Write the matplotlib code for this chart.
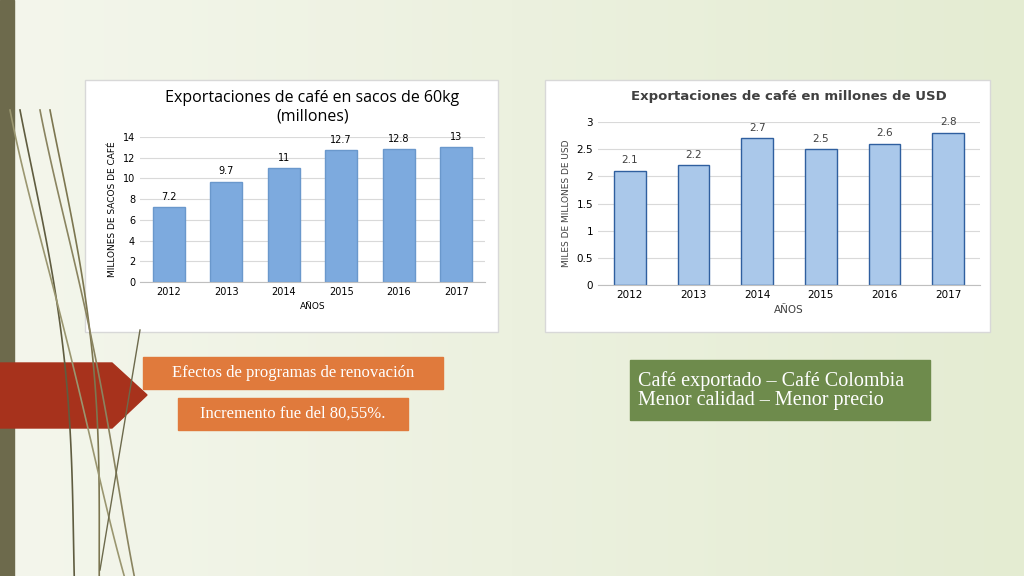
import matplotlib.pyplot as plt
import matplotlib.patches as mp
import numpy as np

years = ["2012", "2013", "2014", "2015", "2016", "2017"]
sacos = [7.2, 9.7, 11, 12.7, 12.8, 13]
sacos_lbl = ["7.2", "9.7", "11", "12.7", "12.8", "13"]
usd = [2.1, 2.2, 2.7, 2.5, 2.6, 2.8]

W, H = 1024, 576
fig = plt.figure(figsize=(10.24, 5.76), dpi=100)

def box(x, y, w, h):
    return [x / W, 1 - (y + h) / H, w / W, h / H]

# fondo
bg = fig.add_axes([0, 0, 1, 1])
grad = np.linspace(0, 1, 256).reshape(1, -1)
bg.imshow(grad, cmap=plt.matplotlib.colors.LinearSegmentedColormap.from_list("g", ["#f4f6ec", "#e4ecd2"]),
          extent=[0, W, H, 0], aspect="auto")
bg.set_xlim(0, W); bg.set_ylim(H, 0); bg.axis("off")
bg.add_patch(mp.Rectangle((0, 0), 14, H, color="#6d6a4c"))
# lineas decorativas
t = np.linspace(0, 1, 100)
for x0, x1, c in [(50, 95, "#7c7650"), (40, 130, "#8a8460"), (20, 70, "#5f5c40"), (10, 120, "#9a9670")]:
    bg.plot(x0 + (x1 - x0) * t ** 2 + 30 * np.sin(t * 3), 110 + 466 * t, color=c, lw=1.2)
bg.plot(100 + 40 * (1 - t), 330 + 240 * t, color="#6d6a4c", lw=1)
# flecha roja
bg.add_patch(mp.Polygon([(0, 363), (112, 363), (147, 395), (112, 428), (0, 428)], color="#a7321c"))
bg.add_patch(mp.Rectangle((143, 357), 300, 32, color="#e07a3c"))
bg.text(293, 373, "Efectos de programas de renovación", ha="center", va="center",
        family="Liberation Serif", fontsize=12, color="white")
bg.add_patch(mp.Rectangle((178, 398), 230, 32, color="#e07a3c"))
bg.text(293, 414, "Incremento fue del 80,55%.", ha="center", va="center",
        family="Liberation Serif", fontsize=12, color="white")
bg.add_patch(mp.Rectangle((630, 360), 300, 60, color="#6e8b4c"))
bg.text(638, 391, "Café exportado – Café Colombia\nMenor calidad – Menor precio", ha="left", va="center",
        family="Liberation Serif", fontsize=14.5, color="white", linespacing=1.0)
# paneles
bg.add_patch(mp.Rectangle((85, 80), 413, 252, facecolor="white", edgecolor="#d8d8d8"))
bg.add_patch(mp.Rectangle((545, 80), 445, 252, facecolor="white", edgecolor="#d8d8d8"))

# grafico izquierdo
ax = fig.add_axes(box(140, 137, 345, 145))
x = np.arange(len(years))
ax.bar(x, sacos, width=0.55, color="#7daade", edgecolor="#6a98cc")
for xi, v, l in zip(x, sacos, sacos_lbl):
    ax.text(xi, v + 0.5, l, ha="center", va="bottom", fontsize=7)
ax.set_ylim(0, 14)
ax.set_yticks(range(0, 15, 2))
ax.set_xlim(-0.5, 5.5)
ax.set_xticks(x, years)
ax.tick_params(labelsize=7, length=0)
ax.grid(axis="y", color="#d9d9d9", lw=0.8)
ax.set_axisbelow(True)
for s in ["top", "right", "left"]:
    ax.spines[s].set_visible(False)
ax.spines["bottom"].set_color("#bfbfbf")
ax.set_xlabel("AÑOS", fontsize=6.5)
ax.set_ylabel("MILLONES DE SACOS DE CAFÉ", fontsize=6.5)
ax.set_title("Exportaciones de café en sacos de 60kg\n(millones)", fontsize=11.5, pad=12,
             fontfamily="Open Sans")

# grafico derecho
ax2 = fig.add_axes(box(598, 122, 382, 163))
ax2.bar(x, usd, width=0.5, color="#aac8ea", edgecolor="#2f5f9f", lw=1)
for xi, v in zip(x, usd):
    ax2.text(xi, v + 0.1, str(v), ha="center", va="bottom", fontsize=7.5, color="#404040")
ax2.set_ylim(0, 3)
ax2.set_yticks([0, 0.5, 1, 1.5, 2, 2.5, 3], ["0", "0.5", "1", "1.5", "2", "2.5", "3"])
ax2.set_xlim(-0.5, 5.5)
ax2.set_xticks(x, years)
ax2.tick_params(labelsize=7.5, length=0)
ax2.grid(axis="y", color="#d9d9d9", lw=0.8)
ax2.set_axisbelow(True)
for s in ["top", "right", "left"]:
    ax2.spines[s].set_visible(False)
ax2.spines["bottom"].set_color("#bfbfbf")
ax2.set_xlabel("AÑOS", fontsize=7.5, color="#404040")
ax2.set_ylabel("MILES DE MILLONES DE USD", fontsize=6.5, color="#404040")
ax2.set_title("Exportaciones de café en millones de USD", fontsize=9.5, fontweight="bold",
              color="#404040", pad=16)

fig.savefig("out.png", dpi=100)
